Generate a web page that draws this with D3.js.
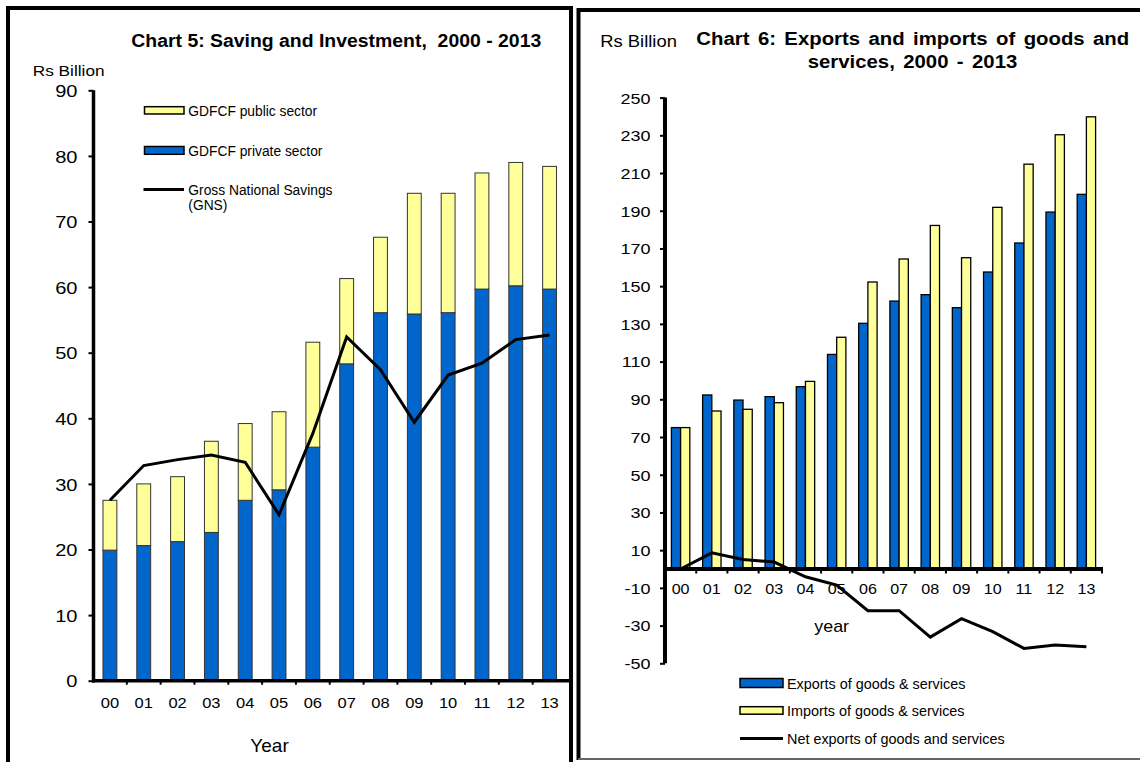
<!DOCTYPE html>
<html>
<head>
<meta charset="utf-8">
<script src="https://cdn.jsdelivr.net/npm/d3@7"></script>
<style>
  html, body { margin: 0; padding: 0; background: #fff; }
  svg { display: block; font-family: "Liberation Sans", Arial, sans-serif; }
  text { white-space: pre; }
</style>
</head>
<body>
<svg id="chart" width="1140" height="762"></svg>
<script>
// ---- Data (Rs Billion) ----
const years = ["00","01","02","03","04","05","06","07","08","09","10","11","12","13"];

// Chart 5: Saving and Investment
const gdfcfPrivate = [19.9, 20.6, 21.2, 22.6, 27.5, 29.1, 35.6, 48.3, 56.1, 55.9, 56.1, 59.7, 60.2, 59.7];
const gdfcfPublic  = [7.6, 9.4, 9.9, 13.9, 11.7, 11.9, 16.0, 13.0, 11.5, 18.4, 18.2, 17.7, 18.8, 18.7];
const gns          = [27.5, 32.8, 33.7, 34.4, 33.3, 25.3, 37.7, 52.4, 47.4, 39.4, 46.6, 48.4, 52.0, 52.7];
const ticks5       = [0, 10, 20, 30, 40, 50, 60, 70, 80, 90];

// Chart 6: Exports and imports of goods and services
const exportsGS = [75.0, 92.3, 89.6, 91.4, 96.7, 113.8, 130.3, 142.1, 145.5, 138.6, 157.5, 172.9, 189.3, 198.7];
const importsGS = [75.0, 83.8, 84.7, 88.2, 99.5, 122.9, 152.2, 164.4, 182.2, 165.1, 191.8, 214.7, 230.3, 239.8];
const netGS     = [0.0, 8.6, 5.1, 3.7, -4.1, -8.5, -22.1, -22.1, -36.1, -26.3, -33.2, -42.1, -40.3, -41.2];
const ticks6    = [-50, -30, -10, 10, 30, 50, 70, 90, 110, 130, 150, 170, 190, 210, 230, 250];

const BLUE = "#0066cc", YELLOW = "#ffff99";
const FONT = "Liberation Sans, Arial, sans-serif";
const plain = d => String(d);   // keeps an ASCII hyphen for negatives
const svg = d3.select("#chart");

// text helper: anchored at (x, y) with an optional horizontal stretch
function label(g, txt, x, y, o = {}) {
  return g.append("text")
    .attr("transform", `translate(${x},${y}) scale(${o.sx || 1},1)`)
    .attr("text-anchor", o.anchor || "start")
    .attr("font-size", o.size || 14)
    .attr("font-weight", o.weight || "normal")
    .attr("word-spacing", o.ws || 0)
    .attr("fill", "#000")
    .text(txt);
}

// ---- Frames ----
const frames = svg.append("g").attr("fill", "none");
frames.append("path").attr("d", "M8,762 V8 H571 V762").attr("stroke", "#000").attr("stroke-width", 4);
frames.append("path").attr("d", "M578.5,760 V10 H1140").attr("stroke", "#000").attr("stroke-width", 4);
frames.append("line").attr("x1", 578).attr("x2", 1140).attr("y1", 759).attr("y2", 759)
  .attr("stroke", "#666").attr("stroke-width", 2);

// =================== Chart 5 ===================
{
  const g = svg.append("g");
  const x = d3.scaleBand().domain(years).range([93, 566.5]).padding(0);
  const y = d3.scaleLinear().domain([0, 90]).range([680.7, 90.3]);

  const rows = years.map((yr, i) => ({ yr, priv: gdfcfPrivate[i], pub: gdfcfPublic[i] }));
  const stack = d3.stack().keys(["priv", "pub"])(rows);
  const colors = { priv: BLUE, pub: YELLOW };
  const bw = x.bandwidth() * 0.41;

  stack.forEach(layer => {
    g.append("g").selectAll("rect").data(layer).join("rect")
      .attr("x", d => x(d.data.yr) + x.bandwidth() / 2 - bw / 2)
      .attr("y", d => y(d[1]))
      .attr("width", bw)
      .attr("height", d => y(d[0]) - y(d[1]))
      .attr("fill", colors[layer.key])
      .attr("stroke", "#333").attr("stroke-width", 1);
  });

  // Gross National Savings line
  const line = d3.line().x((d, i) => x(years[i]) + x.bandwidth() / 2).y(d => y(d));
  g.append("path").datum(gns).attr("d", line)
    .attr("fill", "none").attr("stroke", "#000").attr("stroke-width", 3).attr("stroke-linejoin", "miter");

  // Y axis
  const ya = g.append("g").attr("transform", "translate(93.5,0)")
    .call(d3.axisLeft(y).tickValues(ticks5).tickFormat(plain).tickSize(5).tickSizeOuter(0));
  ya.select(".domain").attr("stroke-width", 3.5).attr("d", `M0,${y(90)}V${y(0) + 1.7}`);
  ya.selectAll(".tick line").attr("stroke-width", 2);
  ya.selectAll(".tick text").attr("x", null).attr("dy", "0.36em")
    .attr("transform", "translate(-16,0) scale(1.18,1)")
    .attr("font-size", 17).attr("font-family", FONT).attr("fill", "#000");

  // X axis: labels at band centres, ticks on category boundaries
  const xa = g.append("g").attr("transform", `translate(0,${y(0)})`)
    .call(d3.axisBottom(x).tickSize(0).tickSizeOuter(0));
  xa.select(".domain").attr("stroke-width", 3.5).attr("d", "M92,0H569");
  xa.selectAll(".tick text").attr("y", null).attr("dy", "0.36em")
    .attr("transform", "translate(0,22) scale(1.1,1)")
    .attr("font-size", 15).attr("font-family", FONT).attr("fill", "#000");
  xa.append("g").selectAll("line").data(years.slice(1)).join("line")
    .attr("x1", d => x(d)).attr("x2", d => x(d))
    .attr("y1", 0).attr("y2", 4).attr("stroke", "#000").attr("stroke-width", 2);

  label(g, "Year", 269.5, 752, { size: 19, anchor: "middle" });
  label(g, "Rs Billion", 32.7, 76, { size: 15, sx: 1.15 });
  label(g, "Chart 5: Saving and Investment,  2000 - 2013", 131.3, 46.5, { size: 18.5, weight: "bold", sx: 1.05 });

  // Legend
  const lg = g.append("g");
  lg.append("rect").attr("x", 144.5).attr("y", 106.7).attr("width", 39.5).attr("height", 7.3)
    .attr("fill", YELLOW).attr("stroke", "#000").attr("stroke-width", 1.5);
  label(lg, "GDFCF public sector", 188.3, 116, { size: 13.8 });
  lg.append("rect").attr("x", 144.5).attr("y", 146.5).attr("width", 39.5).attr("height", 7.8)
    .attr("fill", BLUE).attr("stroke", "#000").attr("stroke-width", 1.5);
  label(lg, "GDFCF private sector", 188.3, 156.3, { size: 13.8 });
  lg.append("line").attr("x1", 143.5).attr("x2", 184).attr("y1", 189.5).attr("y2", 189.5)
    .attr("stroke", "#000").attr("stroke-width", 3);
  label(lg, "Gross National Savings", 188.3, 195.3, { size: 13.8 });
  label(lg, "(GNS)", 188.3, 210.3, { size: 13.8 });
}

// =================== Chart 6 ===================
{
  const g = svg.append("g");
  const x = d3.scaleBand().domain(years).range([665, 1102]).padding(0);
  const y = d3.scaleLinear().domain([-50, 250]).range([663.3, 97.6]);
  const bw = x.bandwidth() * 0.295;

  const barGroup = g.append("g");
  barGroup.selectAll("rect.exp").data(exportsGS).join("rect").attr("class", "exp")
    .attr("x", (d, i) => x(years[i]) + x.bandwidth() / 2 - bw)
    .attr("y", d => y(Math.max(0, d)))
    .attr("width", bw).attr("height", d => Math.abs(y(d) - y(0)))
    .attr("fill", BLUE).attr("stroke", "#000").attr("stroke-width", 1.3);
  barGroup.selectAll("rect.imp").data(importsGS).join("rect").attr("class", "imp")
    .attr("x", (d, i) => x(years[i]) + x.bandwidth() / 2)
    .attr("y", d => y(Math.max(0, d)))
    .attr("width", bw).attr("height", d => Math.abs(y(d) - y(0)))
    .attr("fill", YELLOW).attr("stroke", "#000").attr("stroke-width", 1.3);

  // Y axis
  const ya = g.append("g").attr("transform", "translate(665,0)")
    .call(d3.axisLeft(y).tickValues(ticks6).tickFormat(plain).tickSize(5).tickSizeOuter(0));
  ya.select(".domain").attr("stroke-width", 4).attr("d", `M0,${y(250)}V${y(-50)}`);
  ya.selectAll(".tick line").attr("stroke-width", 2);
  ya.selectAll(".tick text").attr("x", null).attr("dy", "0.36em")
    .attr("transform", "translate(-14.5,0) scale(1.2,1)")
    .attr("font-size", 15).attr("font-family", FONT).attr("fill", "#000");

  // X axis along zero
  const xa = g.append("g").attr("transform", `translate(0,${y(0)})`)
    .call(d3.axisBottom(x).tickSize(0).tickSizeOuter(0));
  xa.select(".domain").attr("stroke-width", 4).attr("d", "M663,0H1103");
  xa.selectAll(".tick text").attr("y", null).attr("dy", "0.36em")
    .attr("transform", "translate(0,19.5) scale(1.15,1)")
    .attr("font-size", 14).attr("font-family", FONT).attr("fill", "#000");
  xa.append("g").selectAll("line").data(years.slice(1).concat(["end"])).join("line")
    .attr("x1", d => d === "end" ? x.range()[1] : x(d)).attr("x2", d => d === "end" ? x.range()[1] : x(d))
    .attr("y1", 0).attr("y2", 4.5).attr("stroke", "#000").attr("stroke-width", 2);

  // Net exports line
  const line = d3.line().x((d, i) => x(years[i]) + x.bandwidth() / 2).y(d => y(d));
  g.append("path").datum(netGS).attr("d", line)
    .attr("fill", "none").attr("stroke", "#000").attr("stroke-width", 3);

  label(g, "year", 831.7, 632, { size: 17, anchor: "middle", sx: 1.05 });
  label(g, "Rs Billion", 600.2, 46.7, { size: 16, sx: 1.15 });
  label(g, "Chart 6: Exports and imports of goods and", 912.8, 45, { size: 18.5, weight: "bold", anchor: "middle", sx: 1.1, ws: 2.5 });
  label(g, "services, 2000 - 2013", 912.5, 68.3, { size: 18.5, weight: "bold", anchor: "middle", sx: 1.1, ws: 2.5 });

  // Legend
  const lg = g.append("g");
  lg.append("rect").attr("x", 740).attr("y", 678.5).attr("width", 43).attr("height", 9)
    .attr("fill", BLUE).attr("stroke", "#000").attr("stroke-width", 1.5);
  label(lg, "Exports of goods & services", 787, 688.5, { size: 14.4 });
  lg.append("rect").attr("x", 740).attr("y", 706.7).attr("width", 43).attr("height", 7.5)
    .attr("fill", YELLOW).attr("stroke", "#000").attr("stroke-width", 1.5);
  label(lg, "Imports of goods & services", 787, 716.3, { size: 14.4 });
  lg.append("line").attr("x1", 740).attr("x2", 783).attr("y1", 738.5).attr("y2", 738.5)
    .attr("stroke", "#000").attr("stroke-width", 3);
  label(lg, "Net exports of goods and services", 787, 744, { size: 14.4 });
}
</script>
</body>
</html>
